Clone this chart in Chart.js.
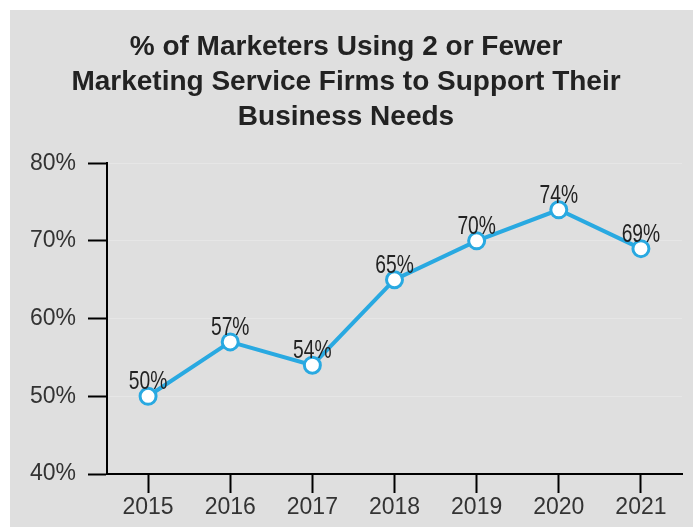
<!DOCTYPE html>
<html>
<head>
<meta charset="utf-8">
<script src="https://cdn.jsdelivr.net/npm/chart.js@4/dist/chart.umd.min.js"></script>
<style>
  html, body { margin: 0; padding: 0; background: #fff; }
  #wrap { position: absolute; left: 10px; top: 10px; width: 683px; height: 517px; background: #dfdfdf; }
</style>
</head>
<body>
<div id="wrap"><canvas id="trend" width="683" height="517"></canvas></div>
<script>
var years = ["2015", "2016", "2017", "2018", "2019", "2020", "2021"];
var pctUsing = [50, 57, 54, 65, 70, 74, 69];
var titleLines = [
  "% of Marketers Using 2 or Fewer",
  "Marketing Service Firms to Support Their",
  "Business Needs"
];

// writes the percentage above every point, in a squeezed face
var pointLabels = {
  id: "pointLabels",
  afterDatasetsDraw: function (chart) {
    var ctx = chart.ctx;
    var meta = chart.getDatasetMeta(0);
    var squeeze = 0.77;
    ctx.save();
    ctx.font = "25px 'Liberation Sans', Arial, sans-serif";
    ctx.fillStyle = "#222";
    ctx.textAlign = "center";
    ctx.textBaseline = "alphabetic";
    meta.data.forEach(function (pt, i) {
      ctx.save();
      ctx.translate(pt.x, pt.y - 7);
      ctx.scale(squeeze, 1);
      ctx.fillText(pctUsing[i] + "%", 0, 0);
      ctx.restore();
    });
    ctx.restore();
  }
};

var ctx = document.getElementById("trend").getContext("2d");
var chart = new Chart(ctx, {
  type: "line",
  data: {
    labels: years,
    datasets: [
      {
        data: pctUsing,
        borderColor: "#29a9e1",
        borderWidth: 4,
        pointRadius: 8,
        pointHoverRadius: 8,
        pointBorderWidth: 3,
        pointBackgroundColor: "#fff",
        pointBorderColor: "#29a9e1",
        tension: 0,
      },
    ],
  },
  options: {
    responsive: false,
    animation: false,
    layout: { padding: { left: 0, right: 11, top: 0, bottom: 0 } },
    plugins: {
      legend: { display: false },
      tooltip: { enabled: false },
      title: {
        display: true,
        text: titleLines,
        color: "#222",
        font: { family: "'Liberation Sans', Arial, sans-serif", size: 28, weight: "bold", lineHeight: 1.24 },
        padding: { top: 20, bottom: 29 },
      },
    },
    scales: {
      x: {
        offset: true,
        grid: { drawOnChartArea: false, tickColor: "#000", tickLength: 19, tickWidth: 2 },
        border: { color: "#000", width: 2 },
        ticks: { color: "#333", padding: 1, font: { family: "'Liberation Sans', Arial, sans-serif", size: 23 } },
        afterFit: function (s) { s.height = 53; },
      },
      y: {
        min: 40,
        max: 80,
        grid: { color: "#e6e6e6", lineWidth: 1, tickColor: "#000", tickLength: 19, tickWidth: 2 },
        border: { color: "#000", width: 2 },
        ticks: {
          stepSize: 10,
          color: "#333",
          padding: 12,
          font: { family: "'Liberation Sans', Arial, sans-serif", size: 23 },
          callback: function (v) { return v + "%"; },
        },
        afterFit: function (s) { s.width = 97; },
      },
    },
  },
  plugins: [pointLabels],
});
</script>
</body>
</html>
